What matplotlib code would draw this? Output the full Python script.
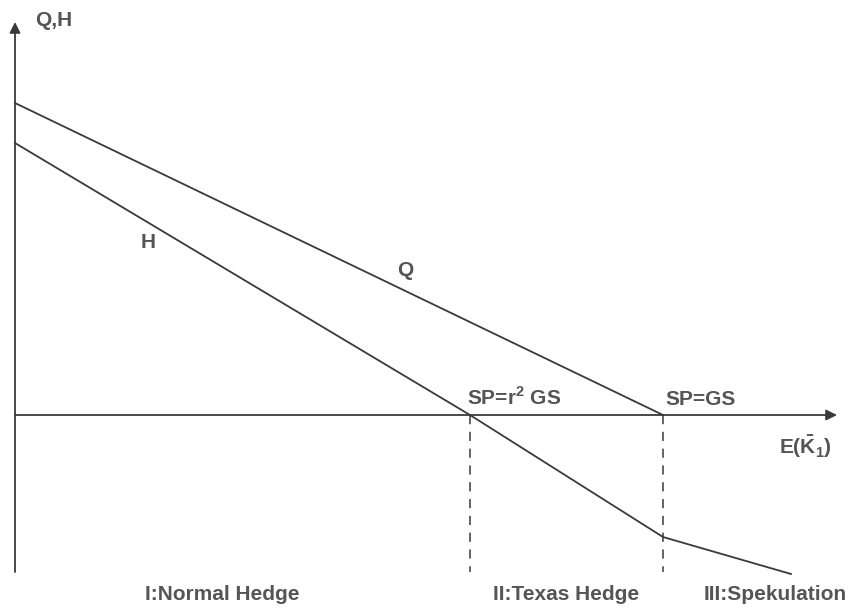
import matplotlib
matplotlib.use("Agg")
import matplotlib.pyplot as plt

plt.rcParams['font.family'] = ['Liberation Sans', 'DejaVu Sans']
plt.rcParams['mathtext.fontset'] = 'custom'
plt.rcParams['mathtext.rm'] = 'Liberation Sans:bold'
plt.rcParams['mathtext.bf'] = 'Liberation Sans:bold'

# Schematic values (arbitrary units)
q_x = [0, 648]
q_y = [312, 0]
h_x = [0, 455, 648, 776]
h_y = [272, 0, -122, -159]
breakpoints = [455, 648]
break_labels = ["SP=r$^{2}$ GS", "SP=GS"]
regions = ["I:Normal Hedge", "II:Texas Hedge", "III:Spekulation"]
region_x = [207, 551, 760]

ink = "#3a3a3a"
txt = "#555555"
fig = plt.figure(figsize=(8.6, 6.09), dpi=100)
ax = fig.add_axes([0, 0, 1, 1])
ax.set_xlim(-15, 845)
ax.set_ylim(-194, 415)
ax.axis("off")

# axes with arrows
ax.annotate("", xy=(822, 0), xytext=(0, 0),
            arrowprops=dict(arrowstyle="-|>", color=ink, lw=1.3,
                            mutation_scale=16, shrinkA=0, shrinkB=0))
ax.annotate("", xy=(0, 393), xytext=(0, -157),
            arrowprops=dict(arrowstyle="-|>", color=ink, lw=1.3,
                            mutation_scale=16, shrinkA=0, shrinkB=0))

ax.plot(q_x, q_y, color=ink, lw=1.3)
ax.plot(h_x, h_y, color=ink, lw=1.3)

for bx in breakpoints:
    ax.plot([bx, bx], [0, -157], color=ink, lw=1.1, ls=(0, (6, 5)))

fs = 15
kw = dict(fontsize=fs, color=txt, fontweight="bold")
ax.text(20, 394, "Q,H", ha="left", va="center", **kw)
ax.text(133, 173, "H", ha="center", va="center", **kw)
ax.text(390, 145, "Q", ha="center", va="center", **kw)
ax.text(breakpoints[0] - 3, 6, break_labels[0], ha="left", va="bottom", **kw)
ax.text(breakpoints[1] + 2, 6, break_labels[1], ha="left", va="bottom", **kw)
ax.text(764, -32, r"E($\bar{\mathrm{K}}_{\mathbf{1}}$)", ha="left",
        va="center", **kw)
for lbl, rx in zip(regions, region_x):
    ax.text(rx, -179, lbl, ha="center", va="center", **kw)

fig.savefig("out.png", dpi=100)
